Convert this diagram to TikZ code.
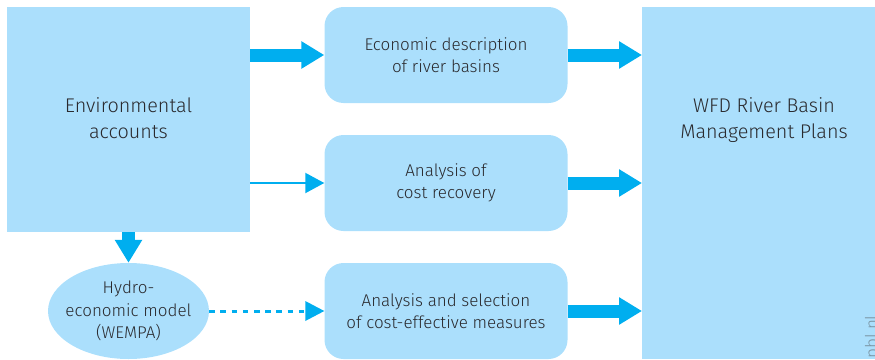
\documentclass[tikz,border=0pt]{standalone}
\usepackage{fontspec}
\setmainfont{Fira Sans}[UprightFont=* Light]
\usetikzlibrary{arrows.meta,shapes.geometric}
\definecolor{boxblue}{HTML}{ABDFFC}
\definecolor{arrowblue}{HTML}{00AEEF}
\definecolor{ink}{HTML}{2A2A2E}
\definecolor{credit}{HTML}{7A94A3}
\tikzset{
  x=1pt,y=-1pt,
  square/.style={fill=boxblue,draw=none,inner sep=0pt,align=center,text=ink,font=\fontsize{19.8}{26}\selectfont},
  label/.style={align=center,text=ink,inner sep=0pt,font=\fontsize{19.8}{26}\selectfont},
  midbox/.style={square,rounded corners=19pt,minimum width=243pt,minimum height=96pt,font=\fontsize{17}{22.5}\selectfont},
  fat/.style={draw=arrowblue,line width=13pt,-{Triangle[length=23pt,width=26pt,fill=arrowblue]},shorten >=0pt},
  thin/.style={draw=arrowblue,line width=2pt,-{Triangle[length=19pt,width=20pt,fill=arrowblue]}},
  dot/.style={draw=arrowblue,line width=3pt,dash pattern=on 5.6pt off 5.6pt,-{Triangle[length=19pt,width=20pt,fill=arrowblue,line width=0pt]}},
}
\begin{document}
\begin{tikzpicture}
\useasboundingbox (0,0) rectangle (875,359);
\clip (0,0) rectangle (875,359);
\node[square,minimum width=243pt,minimum height=225pt] (env) at (128.5,119.5) {};
\node[label] (envtxt) at (128.5,118) {Environmental\\accounts};
\node[square,minimum width=240pt,minimum height=352pt,anchor=north west] (wfd) at (642,7) {};
\node[label] (wfdtxt) at (764,120) {WFD River Basin\\Management Plans};
\node[midbox] (eco) at (446,55) {Economic description\\of river basins};
\node[midbox] (cost) at (446,183) {Analysis of\\cost recovery};
\node[midbox] (sel) at (446,311) {Analysis and selection\\of cost-effective measures};
\node[ellipse,fill=boxblue,inner xsep=-18pt,inner ysep=-8pt,minimum width=161pt,minimum height=96pt,align=center,text=ink,font=\fontsize{17}{22.5}\selectfont] (hydro) at (128.5,311) {Hydro-\\economic model\\(WEMPA)};
\node[rotate=90,text=credit,font=\fontsize{17}{17}\selectfont,anchor=base east,inner sep=0pt] (pbl) at (877.5,315) {pbl.nl};
\draw[fat] (env.east |- eco.west) -- (eco.west);
\draw[thin] (env.east |- cost.west) -- (cost.west);
\draw[dot] (hydro.east) -- (sel.west);
\draw[fat] (eco.east) -- (wfd.west |- eco.east);
\draw[fat] (cost.east) -- (wfd.west |- cost.east);
\draw[fat] (sel.east) -- (wfd.west |- sel.east);
\draw[fat] (env.south) -- (hydro.north);
\end{tikzpicture}
\end{document}
